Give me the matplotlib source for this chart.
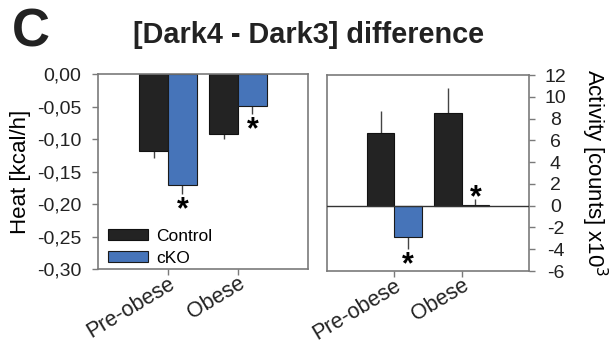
import numpy as np
import matplotlib.pyplot as plt
from matplotlib.ticker import FuncFormatter

plt.rcParams['font.family'] = ['Liberation Sans', 'DejaVu Sans']
plt.rcParams['axes.unicode_minus'] = False

# data
groups = ["Pre-obese", "Obese"]
heat_control = [-0.118, -0.093]
heat_control_err = [0.011, 0.007]
heat_cko = [-0.170, -0.049]
heat_cko_err = [0.015, 0.013]

act_control = [6.7, 8.5]
act_control_err = [2.0, 2.3]
act_cko = [-2.9, 0.1]
act_cko_err = [1.1, 0.5]

c_black = "#232323"
c_blue = "#4674b9"
spine_col = "#7a7a7a"

fig = plt.figure(figsize=(6.15, 3.43), dpi=100)
ax1 = fig.add_axes([0.1593, 0.2157, 0.3415, 0.5685])
ax2 = fig.add_axes([0.5317, 0.2099, 0.3285, 0.5714])

x = np.arange(len(groups))
w = 0.41


def one_sided(vals, errs):
    # error bar only on the side away from zero
    lo = [e if v < 0 else 0 for v, e in zip(vals, errs)]
    hi = [e if v >= 0 else 0 for v, e in zip(vals, errs)]
    return [lo, hi]


for ax, ctrl, ctrl_e, cko, cko_e in [
    (ax1, heat_control, heat_control_err, heat_cko, heat_cko_err),
    (ax2, act_control, act_control_err, act_cko, act_cko_err),
]:
    ax.bar(x - w / 2, ctrl, w, color=c_black, edgecolor="#111111", lw=0.8,
           label="Control", zorder=2)
    ax.bar(x + w / 2, cko, w, color=c_blue, edgecolor="#1a1a1a", lw=0.8,
           label="cKO", zorder=2)
    ax.errorbar(x - w / 2, ctrl, yerr=one_sided(ctrl, ctrl_e), fmt="none",
                ecolor="#444444", elinewidth=1, capsize=0, zorder=1)
    ax.errorbar(x + w / 2, cko, yerr=one_sided(cko, cko_e), fmt="none",
                ecolor="#444444", elinewidth=1, capsize=0, zorder=1)
    ax.set_xlim(-1, 2)
    ax.set_xticks(x)
    ax.set_xticklabels(groups, rotation=31, ha="right", rotation_mode="anchor",
                       fontsize=15.5)
    for s in ax.spines.values():
        s.set_color(spine_col)
        s.set_linewidth(1.2)
    ax.tick_params(colors=spine_col, labelcolor="#222222", length=4, width=1)
    ax.tick_params(axis="x", pad=-1)

# left panel
ax1.set_ylim(-0.30, 0.0)
ax1.set_yticks(np.arange(-0.30, 0.001, 0.05))
ax1.yaxis.set_major_formatter(FuncFormatter(lambda v, p: f"{v:.2f}".replace(".", ",").replace("-0,00", "0,00")))
ax1.tick_params(axis="y", labelsize=14, pad=8)
ax1.set_ylabel("Heat [kcal/h]", fontsize=16, labelpad=4)
ax1.legend(loc="lower left", bbox_to_anchor=(0.033, 0.0), frameon=False,
           fontsize=12.5, handlelength=2.3, handleheight=0.6,
           labelspacing=0.4, borderaxespad=0.0, handletextpad=0.45,
           borderpad=0.2)

# stars heat
for i in [0, 1]:
    ax1.annotate("*", (x[i] + w / 2, heat_cko[i] - heat_cko_err[i]),
                 xytext=(0, -1), textcoords="offset points",
                 ha="center", va="top", fontsize=22, fontweight="bold")

# right panel
ax2.set_ylim(-6, 12)
ax2.set_yticks(np.arange(-6, 13, 2))
ax2.yaxis.tick_right()
ax2.yaxis.set_label_position("right")
ax2.tick_params(axis="y", labelsize=14)
for lab in ax2.get_yticklabels():
    lab.set_horizontalalignment("center")
ax2.tick_params(axis="y", pad=15)
ax2.axhline(0, color="#333333", lw=1, zorder=3)
ax2.set_ylabel("Activity [counts] x10$^3$", fontsize=16, rotation=270,
               labelpad=31)

ax2.annotate("*", (x[0] + w / 2, act_cko[0] - act_cko_err[0]),
             xytext=(0, -1), textcoords="offset points",
             ha="center", va="top", fontsize=22, fontweight="bold")
ax2.annotate("*", (x[1] + w / 2, act_cko[1] + act_cko_err[1]),
             xytext=(0, -10), textcoords="offset points",
             ha="center", va="bottom", fontsize=22, fontweight="bold")

fig.text(0.020, 0.905, "C", fontsize=38, fontweight="bold", va="center",
         color="#222222")
fig.text(0.502, 0.898, "[Dark4 - Dark3] difference", fontsize=20.8,
         fontweight="bold", ha="center", va="center", color="#222222")

fig.savefig("out.png", dpi=100)
